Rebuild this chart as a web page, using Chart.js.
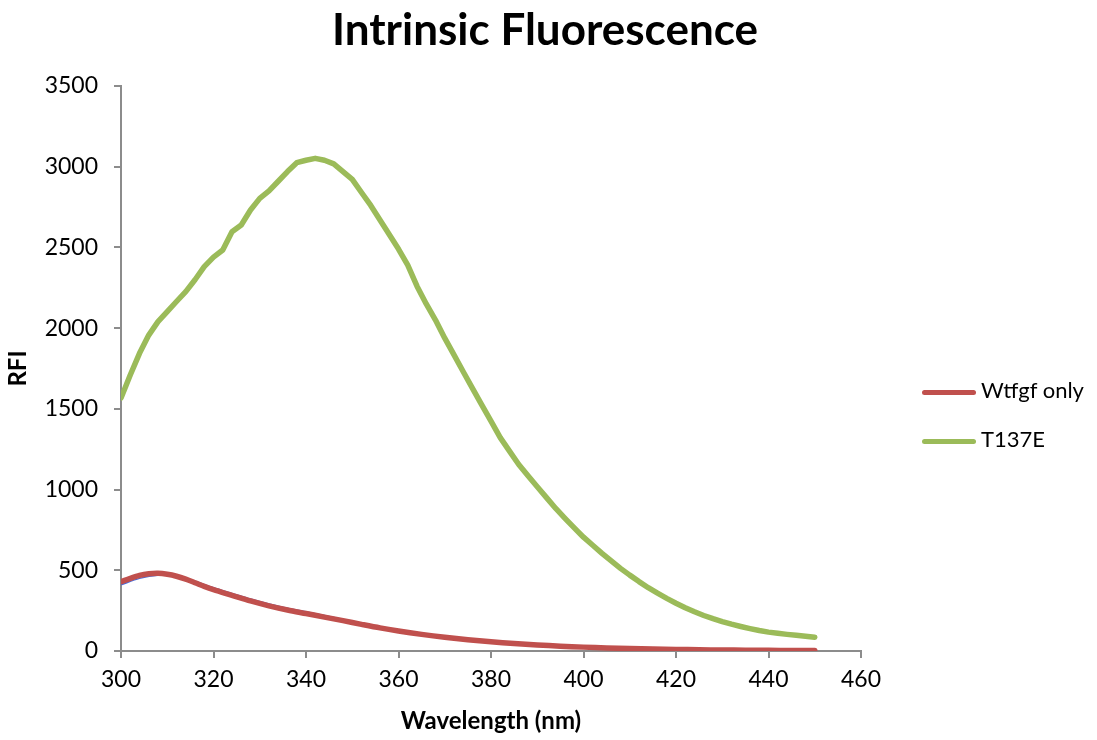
<!DOCTYPE html>
<html>
<head>
<meta charset="utf-8">
<script src="https://cdn.jsdelivr.net/npm/chart.js@4"></script>
<style>
  body { margin: 0; background: #fff; }
  #wrap { position: relative; width: 1097px; height: 740px; }
  #title { position: absolute; left: 0; width: 1090px; top: 2px; text-align: center;
           font: bold 44px Lato, sans-serif; color: #000; }
  .leg { position: absolute; left: 922px; font: 22px Lato, sans-serif; color: #000; }
  .leg span { display: inline-block; width: 54px; height: 5px; border-radius: 3px;
              vertical-align: middle; margin-right: 5px; }
</style>
</head>
<body>
<div id="wrap">
  <div id="title">Intrinsic Fluorescence</div>
  <canvas id="fluoChart" width="1097" height="740"></canvas>
  <div class="leg" style="top:376px"><span style="background:#C0504D"></span>Wtfgf only</div>
  <div class="leg" style="top:425px"><span style="background:#9BBB59"></span>T137E</div>
</div>
<script>
// Datos
const greenWave = [300, 302, 304, 306, 308, 310, 312, 314, 316, 318, 320, 322, 324, 326, 328, 330,
    332, 334, 336, 338, 340, 342, 344, 346, 348, 350, 352, 354, 356, 358, 360, 362, 364, 366, 368,
    370, 372, 374, 376, 378, 380, 382, 384, 386, 388, 390, 392, 394, 396, 398, 400, 402, 404, 406,
    408, 410, 412, 414, 416, 418, 420, 422, 424, 426, 428, 430, 432, 434, 436, 438, 440, 442, 444,
    446, 448, 450];
const greenRFI = [1567, 1710, 1844, 1957, 2040, 2102, 2165, 2226, 2300, 2381, 2440, 2484, 2597, 2639,
    2732, 2804, 2850, 2910, 2970, 3025, 3040, 3052, 3040, 3018, 2970, 2922, 2840, 2760, 2670, 2580,
    2490, 2390, 2260, 2150, 2050, 1938, 1834, 1730, 1627, 1525, 1424, 1322, 1238, 1155, 1085, 1018,
    950, 883, 822, 763, 705, 655, 605, 558, 512, 470, 430, 392, 358, 326, 296, 268, 243, 220, 200,
    182, 166, 152, 139, 127, 117, 110, 103, 97, 91, 85];

const redWave = [300, 302, 304, 306, 308, 310, 312, 314, 316, 318, 320, 324, 328, 332, 336, 340, 344,
    348, 352, 356, 360, 365, 370, 375, 380, 385, 390, 395, 400, 405, 410, 415, 420, 425, 430, 435,
    440, 445, 450];
const redRFI = [429, 450, 468, 478, 481, 475, 463, 445, 423, 400, 380, 345, 310, 280, 254, 232, 210,
    188, 165, 143, 124, 103, 85, 70, 57, 46, 37, 30, 24, 19, 15, 12, 10, 8, 6, 5, 4, 3, 3];

const blueWave = [300, 304, 308, 312, 316, 320, 324, 328, 332, 336, 340, 344, 348, 352, 356, 360, 365,
    370, 375, 380, 385, 390, 395, 400, 410, 420, 430, 440, 450];
const blueRFI = [410, 450, 470, 466, 432, 392, 357, 322, 292, 265, 243, 220, 196, 172, 150, 128, 105,
    86, 70, 56, 44, 35, 27, 20, 12, 8, 5, 3, 2];

const toPoints = (xs, ys) => xs.map((x, i) => ({ x, y: ys[i] }));

const axisColor = '#8c8c8c';
const tickFont = { family: 'Lato', size: 23 };
const titleFont = { family: 'Lato', size: 24, weight: 'bold' };

function plotChart() {
    const ctx = document.getElementById('fluoChart').getContext('2d');
    new Chart(ctx, {
        type: 'line',
        data: {
            datasets: [
                {
                    label: 'serie 1',
                    data: toPoints(blueWave, blueRFI),
                    borderColor: '#4a6fdc',
                    borderWidth: 1.5,
                    pointRadius: 0,
                    tension: 0.3,
                    order: 3,
                },
                {
                    label: 'Wtfgf only',
                    data: toPoints(redWave, redRFI),
                    borderColor: '#C0504D',
                    borderWidth: 5.5,
                    borderCapStyle: 'round',
                    pointRadius: 0,
                    tension: 0.3,
                    order: 2,
                },
                {
                    label: 'T137E',
                    data: toPoints(greenWave, greenRFI),
                    borderColor: '#9BBB59',
                    borderWidth: 5.5,
                    borderCapStyle: 'round',
                    borderJoinStyle: 'round',
                    pointRadius: 0,
                    tension: 0,
                    order: 1,
                },
            ],
        },
        options: {
            responsive: false,
            animation: false,
            layout: { padding: { top: 86, right: 236, left: 0, bottom: 0 } },
            plugins: { legend: { display: false }, title: { display: false }, tooltip: { enabled: false } },
            scales: {
                x: {
                    type: 'linear',
                    min: 300,
                    max: 460,
                    ticks: { stepSize: 20, color: '#000', font: tickFont, padding: 8, maxRotation: 0,
                             callback: (v) => String(v) },
                    grid: { drawOnChartArea: false, tickLength: 7, color: axisColor, lineWidth: 2 },
                    border: { color: axisColor, width: 2 },
                    title: { display: true, text: 'Wavelength (nm)', color: '#000',
                             font: titleFont, padding: { top: 0, bottom: 4 } },
                    afterFit: (scale) => { scale.height = 89; },
                },
                y: {
                    min: 0,
                    max: 3500,
                    ticks: { stepSize: 500, color: '#000', font: tickFont, padding: 16,
                             callback: (v) => String(v) },
                    grid: { drawOnChartArea: false, tickLength: 7, color: axisColor, lineWidth: 2 },
                    border: { color: axisColor, width: 2 },
                    title: { display: true, text: 'RFI', color: '#000',
                             font: titleFont, padding: { top: 4, bottom: 0 } },
                    afterFit: (scale) => { scale.width = 121; },
                },
            },
        },
    });
}

plotChart();
</script>
</body>
</html>
